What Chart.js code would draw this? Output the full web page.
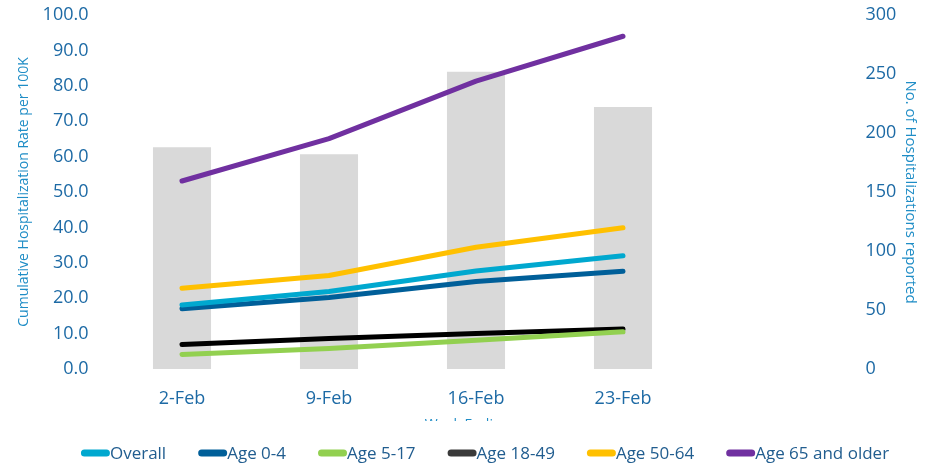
<!DOCTYPE html>
<html lang="en">
<head>
    <meta charset="UTF-8">
    <title>Cumulative Hospitalization Rate</title>
    <script src="https://cdn.jsdelivr.net/npm/chart.js"></script>
    <style>
        html, body { margin: 0; padding: 0; background: #fff; }
        .wrap { width: 935px; height: 465px; position: relative; }
    </style>
</head>
<body>
    <div class="wrap"><canvas id="chart"></canvas></div>

    <script>
        // week ending dates (last slot is left empty, as in the original)
        const weeks = ['2-Feb', '9-Feb', '16-Feb', '23-Feb', ''];

        // hospitalizations reported (right axis, bars)
        const hospitalizations = [188, 182, 252, 222, null];

        // cumulative rate per 100K (left axis, lines)
        const overall = [18.1, 21.9, 27.7, 32.0, null];
        const age0to4 = [17.0, 20.2, 24.7, 27.6, null];
        const age5to17 = [4.1, 5.8, 8.1, 10.5, null];
        const age18to49 = [6.9, 8.6, 10.0, 11.3, null];
        const age50to64 = [22.8, 26.4, 34.4, 39.9, null];
        const age65plus = [53.1, 65.1, 81.3, 94.0, null];

        const leftTicks = [0, 10, 20, 30, 40, 50, 60, 70, 80, 90, 100];
        const rightTicks = [0, 50, 100, 150, 200, 250, 300];

        const tickColor = '#1d6aa5';
        const titleColor = '#1f8dc6';
        const legendColor = '#215d8f';
        const fontFamily = '"Open Sans", sans-serif';

        function line(label, data, color) {
            return {
                type: 'line',
                label: label,
                data: data,
                yAxisID: 'y',
                borderColor: color,
                backgroundColor: color,
                borderWidth: 5,
                borderCapStyle: 'round',
                borderJoinStyle: 'round',
                pointRadius: 0,
                tension: 0,
                order: 1
            };
        }

        // legend + the half-hidden x axis title, drawn under the plot
        const bottomPlugin = {
            id: 'bottomLegend',
            afterDraw(chart) {
                const ctx = chart.ctx;
                ctx.save();

                // x axis title, mostly cut off by the legend area
                ctx.save();
                ctx.beginPath();
                ctx.rect(0, 0, chart.width, 421);
                ctx.clip();
                ctx.font = '14px ' + fontFamily;
                ctx.fillStyle = titleColor;
                ctx.textAlign = 'center';
                ctx.textBaseline = 'top';
                ctx.fillText('Week Ending', 467, 418);
                ctx.restore();

                ctx.font = '17px ' + fontFamily;
                ctx.textBaseline = 'middle';
                ctx.textAlign = 'left';
                const items = chart.data.datasets.filter(d => d.type === 'line');
                const markW = 29, gap = 32;
                const widths = items.map(d => markW + ctx.measureText(d.label).width);
                const total = widths.reduce((a, b) => a + b, 0) + gap * (items.length - 1);
                let x = 485 - total / 2;
                const y = 453;
                items.forEach((d, i) => {
                    ctx.strokeStyle = d.label === 'Age 18-49' ? '#3a3a3a' : d.borderColor;
                    ctx.lineWidth = 7;
                    ctx.lineCap = 'round';
                    ctx.beginPath();
                    ctx.moveTo(x + 3.5, y);
                    ctx.lineTo(x + markW - 3.5, y);
                    ctx.stroke();
                    ctx.fillStyle = legendColor;
                    ctx.fillText(d.label, x + markW, y + 1);
                    x += widths[i] + gap;
                });
                ctx.restore();
            }
        };

        function fitY(width) {
            return function (scale) {
                scale.width = width;
                scale.paddingTop = 0;
                scale.paddingBottom = 0;
            };
        }

        new Chart(document.getElementById('chart'), {
            data: {
                labels: weeks,
                datasets: [
                    line('Overall', overall, '#00a8cf'),
                    line('Age 0-4', age0to4, '#005f99'),
                    line('Age 5-17', age5to17, '#92d050'),
                    line('Age 18-49', age18to49, '#000000'),
                    line('Age 50-64', age50to64, '#ffc000'),
                    line('Age 65 and older', age65plus, '#7030a0'),
                    {
                        type: 'bar',
                        label: 'Hospitalizations',
                        data: hospitalizations,
                        yAxisID: 'y1',
                        backgroundColor: '#d9d9d9',
                        barPercentage: 0.395,
                        categoryPercentage: 1,
                        order: 10
                    }
                ]
            },
            options: {
                responsive: true,
                maintainAspectRatio: false,
                animation: false,
                layout: { padding: { top: 15, left: 12, right: 12, bottom: 0 } },
                plugins: {
                    legend: { display: false },
                    tooltip: { enabled: false }
                },
                scales: {
                    x: {
                        grid: { display: false, drawTicks: false },
                        border: { display: false },
                        ticks: {
                            color: tickColor,
                            font: { family: fontFamily, size: 18 },
                            padding: 19,
                            maxRotation: 0
                        },
                        afterFit(scale) { scale.height = 96; }
                    },
                    y: {
                        position: 'left',
                        min: 0,
                        max: 100,
                        grid: { display: false, drawTicks: false },
                        border: { display: false },
                        afterBuildTicks(scale) { scale.ticks = leftTicks.map(v => ({ value: v })); },
                        ticks: {
                            color: tickColor,
                            font: { family: fontFamily, size: 18 },
                            padding: 20,
                            callback: v => v.toFixed(1)
                        },
                        title: {
                            display: true,
                            text: 'Cumulative Hospitalization Rate per 100K',
                            color: titleColor,
                            font: { family: fontFamily, size: 14 }
                        },
                        afterFit: fitY(96.5)
                    },
                    y1: {
                        position: 'right',
                        min: 0,
                        max: 300,
                        grid: { display: false, drawTicks: false },
                        border: { display: false },
                        afterBuildTicks(scale) { scale.ticks = rightTicks.map(v => ({ value: v })); },
                        ticks: {
                            color: tickColor,
                            font: { family: fontFamily, size: 18 },
                            padding: 22
                        },
                        title: {
                            display: true,
                            text: 'No. of Hospitalizations reported',
                            color: titleColor,
                            font: { family: fontFamily, size: 15 }
                        },
                        afterFit: fitY(79.5)
                    }
                }
            },
            plugins: [bottomPlugin]
        });
    </script>
</body>
</html>
